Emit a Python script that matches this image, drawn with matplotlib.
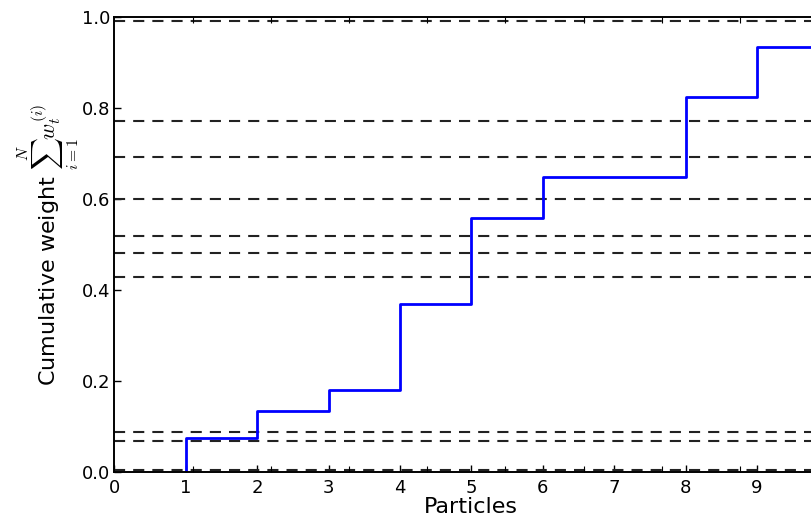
import matplotlib
matplotlib.use("Agg")
import matplotlib.pyplot as plt

# particle index and cumulative weight after each particle
particles = [1, 2, 3, 4, 5, 6, 7, 8, 9, 10]
cum_weight = [0.0735, 0.134, 0.180, 0.369, 0.559, 0.649, 0.649, 0.824, 0.934, 1.0]

# sorted uniform draws used for resampling (dashed lines)
draws = [0.0037, 0.0682, 0.0874, 0.4285, 0.482, 0.5194, 0.600, 0.6932, 0.7718, 0.9925]

xticks = [0, 1, 2, 3, 4, 5, 6, 7, 8, 9]
yticks = [0.0, 0.2, 0.4, 0.6, 0.8, 1.0]

plt.rcParams['mathtext.fontset'] = 'cm'
plt.rcParams['lines.scale_dashes'] = False

fig = plt.figure(figsize=(8.11, 5.17), dpi=100)
# axes runs past the right edge of the figure, like the original crop
ax = fig.add_axes([114.3 / 811, 45.3 / 517, 714 / 811, 454.4 / 517])

for d in draws:
    ax.axhline(d, color='#222222', lw=1.5, ls=(0, (8, 5.8)))

ax.step([particles[0]] + particles, [0.0] + cum_weight, where='post', color='#0000ff', lw=2)

ax.set_xlim(0, 10)
ax.set_ylim(0, 1)
ax.set_xticks(xticks)
ax.set_yticks(yticks)
ax.set_yticklabels(['%.1f' % t for t in yticks])
ax.tick_params(direction='in', length=5, width=1, labelsize=13, top=False, right=True, pad=5)
ax.tick_params(axis='y', pad=3)
ax.set_xlabel('Particles', fontsize=16, labelpad=0)
ax.set_ylabel(r'Cumulative weight $\sum_{i=1}^{N} w_t^{(i)}$', fontsize=16, labelpad=0)

# second set of small ticks on top and bottom
ax2 = ax.twiny()
ax2.set_xlim(0, 714 / 78.2)
ax2.set_xticks(range(1, 10))
ax2.tick_params(direction='in', length=4, width=0.8, top=True, bottom=True,
                labeltop=False, labelbottom=False)

for a in (ax, ax2):
    for s in a.spines.values():
        s.set_linewidth(1.2)

fig.savefig('out.png', dpi=100)
